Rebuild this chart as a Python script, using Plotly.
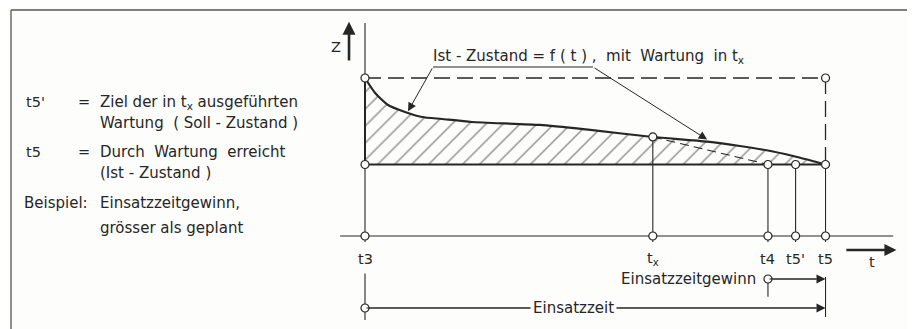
import plotly.graph_objects as go

# time points on the t axis (t3 = 0, t5 = 100)
t_names = ["t3", "tx", "t4", "t5'", "t5"]
t_vals = [0.0, 62.5, 87.5, 93.5, 100.0]
T = dict(zip(t_names, t_vals))

# condition Z (0 = baseline, 100 = new condition)
z_top = 100.0
z_base = 0.0

# Ist-Zustand = f(t), with maintenance in tx
ist_t = [0.0, 2.2, 5.0, 8.7, 12.4, 16.7, 23.2, 38.0, 48.9, 62.5, 74.3, 81.4, 88.6, 94.5, 100.0]
ist_z = [100.0, 82.7, 68.8, 60.7, 54.9, 52.6, 49.1, 45.7, 39.9, 31.8, 26.5, 21.4, 15.0, 7.8, 0.0]

# Soll-Zustand after maintenance in tx (dashed)
soll_t = [T["tx"], T["t4"]]
soll_z = [31.8, 0.0]

INK = "#262626"
BG = "#fdfdfc"
FONT = "DejaVu Sans"
W, H = 907, 321   # page adds an 8px body margin


def px(X):
    return (X - 8) / W


def py(Y):
    return 1 - (Y - 8) / H


# vertical levels for the lower part of the drawing
z_axis = -82.7
z_lbl = -109.5
z_gain = -132.4
z_use = -165.9

fig = go.Figure()


def line(x, y, width=1.1, dash=None, shape="linear"):
    fig.add_trace(go.Scatter(x=x, y=y, mode="lines", hoverinfo="skip",
                             line=dict(color=INK, width=width, dash=dash, shape=shape)))


# hatched area under the Ist curve
fig.add_trace(go.Scatter(
    x=ist_t, y=ist_z, mode="lines", fill="tozeroy", hoverinfo="skip",
    fillcolor="rgba(0,0,0,0)",
    fillpattern=dict(shape="/", size=12, solidity=0.12, fgcolor=INK, bgcolor="rgba(0,0,0,0)"),
    line=dict(color=INK, width=2.2, shape="spline", smoothing=0.6),
))

# baseline and left edge
line([T["t3"], T["t5"]], [z_base, z_base], width=2)
line([T["t3"], T["t3"]], [z_base, z_top], width=2)

# dashed top line and t5 dashed vertical
line([T["t3"], T["t5"]], [z_top, z_top], width=1.3, dash="16px,7px")
line([T["t5"], T["t5"]], [z_top, z_base], width=1.3, dash="16px,7px")

# Soll line
line(soll_t, soll_z, width=1.1, dash="9px,5px")

# Z axis (t3 vertical)
line([T["t3"], T["t3"]], [163.6, -89.5])
line([T["t3"], T["t3"]], [-126.0, -179.8])

# time axis
line([-5.4, 114.7], [z_axis, z_axis])

# verticals from curve/baseline to time axis
line([T["tx"], T["tx"]], [31.8, -89.5])
line([T["t4"], T["t4"]], [z_base, -89.5])
line([T["t4"], T["t4"]], [-130.0, -153.0])
line([T["t5'"], T["t5'"]], [z_base, -89.5])
line([T["t5"], T["t5"]], [z_base, -89.5])
line([T["t5"], T["t5"]], [-130.0, -176.3])

# Einsatzzeit / Einsatzzeitgewinn lines
line([T["t3"], T["t5"] - 2], [z_use, z_use])
line([T["t4"], T["t5"] - 2], [z_gain, z_gain])

# leader line of the curve label
line([14.77, 49.5], [112.7, 112.7])

# circles
circ_t = [T["t3"], T["t3"], T["t5"], T["tx"], T["t4"], T["t5'"], T["t5"],
          T["t3"], T["tx"], T["t4"], T["t5'"], T["t5"], T["t4"], T["t3"]]
circ_z = [z_top, z_base, z_top, 31.8, z_base, z_base, z_base,
          z_axis, z_axis, z_axis, z_axis, z_axis, z_gain, z_use]
fig.add_trace(go.Scatter(x=circ_t, y=circ_z, mode="markers", hoverinfo="skip",
                         marker=dict(size=8, color=BG, line=dict(color=INK, width=1.2))))

ann = []


def arrow(x0, y0, x1, y1, width=1.1, size=1.6, head=2):
    ann.append(dict(x=x1, y=y1, ax=x0, ay=y0, xref="x", yref="y", axref="x", ayref="y",
                    text="", showarrow=True, arrowhead=head, arrowsize=size,
                    arrowwidth=width, arrowcolor=INK, standoff=0, startstandoff=0))


def text(x, y, s, size=14.5, xanchor="center", ref="x", bg=None):
    d = dict(x=x, y=y, text=s, showarrow=False, xanchor=xanchor, yanchor="middle",
             font=dict(family=FONT, size=size, color=INK))
    if ref == "paper":
        d.update(xref="paper", yref="paper")
    else:
        d.update(xref="x", yref="y")
    if bg:
        d.update(bgcolor=bg, borderpad=2)
    ann.append(d)


arrow(-3.47, 118.5, -3.47, 165.0, width=2.6, size=1.0)
arrow(104.2, -98.8, 115.4, -98.8, width=2.4, size=1.0)
arrow(49.5, 112.7, 74.3, 28.8, width=1.0, size=1.7)
arrow(14.77, 112.7, 9.34, 61.5, width=1.0, size=1.7)
arrow(T["t4"], z_gain, T["t5"], z_gain, width=1.0, size=1.8)
arrow(T["t3"], z_use, T["t5"], z_use, width=1.0, size=1.8)

text(-6.2, 136.0, "Z", size=14.5)
text(14.4, 124.3, "Ist - Zustand = f ( t ) ,  mit  Wartung  in t<sub>x</sub>", size=15, xanchor="left")
for name in t_names:
    lab = "t<sub>x</sub>" if name == "tx" else name
    text(T[name], z_lbl, lab)
text(110.2, -112.7, "t")
text(85.3, z_gain, "Einsatzzeitgewinn", size=15, xanchor="right")
text(45.2, z_use, "Einsatzzeit", size=15, bg=BG)

# legend text on the left
text(px(24), py(102), "t5'", ref="paper", xanchor="left")
text(px(76), py(102), "=", ref="paper", xanchor="left")
text(px(98), py(102), "Ziel der in t<sub>x</sub> ausgeführten", size=15, ref="paper", xanchor="left")
text(px(98), py(123), "Wartung  ( Soll - Zustand )", size=15, ref="paper", xanchor="left")
text(px(24), py(152), "t5", ref="paper", xanchor="left")
text(px(76), py(152), "=", ref="paper", xanchor="left")
text(px(98), py(152), "Durch  Wartung  erreicht", size=15, ref="paper", xanchor="left")
text(px(98), py(173), "(Ist - Zustand )", size=15, ref="paper", xanchor="left")
text(px(22), py(203), "Beispiel:", size=15, ref="paper", xanchor="left")
text(px(98), py(203), "Einsatzzeitgewinn,", size=15, ref="paper", xanchor="left")
text(px(98), py(228), "grösser als geplant", size=15, ref="paper", xanchor="left")

# outer frame
frame = [
    dict(type="line", xref="paper", yref="paper", x0=px(11), x1=px(11), y0=0, y1=py(10)),
    dict(type="line", xref="paper", yref="paper", x0=px(11), x1=px(912), y0=py(10), y1=py(10)),
    dict(type="line", xref="paper", yref="paper", x0=px(912), x1=px(912), y0=0, y1=py(10)),
]
for s in frame:
    s["line"] = dict(color="#555555", width=1.3)

fig.update_layout(
    width=W, height=H, autosize=False,
    margin=dict(l=0, r=0, t=0, b=0),
    paper_bgcolor=BG, plot_bgcolor=BG,
    showlegend=False,
    annotations=ann, shapes=frame,
    xaxis=dict(range=[-77.52, 119.43], visible=False, fixedrange=True),
    yaxis=dict(range=[-190.2, 180.9], visible=False, fixedrange=True),
)

fig.write_html("out.html")
